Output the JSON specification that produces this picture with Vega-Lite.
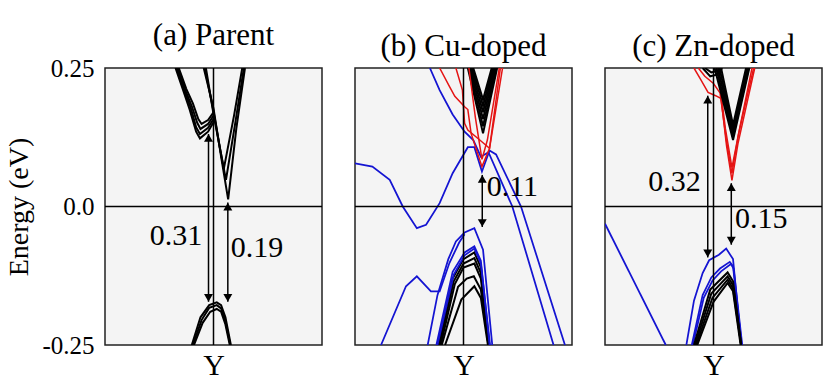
{
"$schema":"https://vega.github.io/schema/vega-lite/v6.json",
"padding":{"left":5,"top":19,"right":0,"bottom":0},
"spacing":29,
"background":"white",
"config":{
 "font":"Liberation Serif",
 "view":{"fill":"#f4f4f4","stroke":"#222","strokeWidth":1.5},
 "title":{"font":"Liberation Serif","fontSize":31,"fontWeight":"normal","color":"black","offset":4,"anchor":"middle"},
 "axisX":{"ticks":false,"domain":false,"grid":false,"labelFont":"Liberation Serif","labelFontSize":30,"labelColor":"black","labelPadding":5,"labelFlush":false},
 "axisY":{"ticks":false,"domain":false,"grid":false,"labelFont":"Liberation Serif","labelFontSize":25,"labelColor":"black","labelPadding":11,"labelFlush":false,"titleFont":"Liberation Serif","titleFontSize":28,"titleFontWeight":"normal","titleColor":"black","titlePadding":8},
 "text":{"font":"Liberation Serif"}
},
"datasets":{
"a":[
{"band":"aV1","kind":"host","k":-0.09,"E":0.25},{"band":"aV1","kind":"host","k":-0.04,"E":0.21},{"band":"aV1","kind":"host","k":0,"E":0.177},{"band":"aV1","kind":"host","k":0.07,"E":0.09},{"band":"aV1","kind":"host","k":0.135,"E":0.013},{"band":"aV1","kind":"host","k":0.21,"E":0.14},{"band":"aV1","kind":"host","k":0.29,"E":0.25},
{"band":"aV2","kind":"host","k":-0.08,"E":0.25},{"band":"aV2","kind":"host","k":0,"E":0.172},{"band":"aV2","kind":"host","k":0.06,"E":0.105},{"band":"aV2","kind":"host","k":0.115,"E":0.048},{"band":"aV2","kind":"host","k":0.2,"E":0.15},{"band":"aV2","kind":"host","k":0.28,"E":0.25},
{"band":"aV3","kind":"host","k":-0.07,"E":0.25},{"band":"aV3","kind":"host","k":0,"E":0.167},{"band":"aV3","kind":"host","k":0.05,"E":0.115},{"band":"aV3","kind":"host","k":0.095,"E":0.068},{"band":"aV3","kind":"host","k":0.19,"E":0.165},{"band":"aV3","kind":"host","k":0.265,"E":0.25},
{"band":"aL1","kind":"host","k":-0.35,"E":0.25},{"band":"aL1","kind":"host","k":-0.28,"E":0.21},{"band":"aL1","kind":"host","k":-0.22,"E":0.175},{"band":"aL1","kind":"host","k":-0.16,"E":0.135},{"band":"aL1","kind":"host","k":-0.125,"E":0.123},{"band":"aL1","kind":"host","k":-0.05,"E":0.135},{"band":"aL1","kind":"host","k":0,"E":0.152},
{"band":"aL2","kind":"host","k":-0.34,"E":0.25},{"band":"aL2","kind":"host","k":-0.27,"E":0.21},{"band":"aL2","kind":"host","k":-0.21,"E":0.178},{"band":"aL2","kind":"host","k":-0.16,"E":0.143},{"band":"aL2","kind":"host","k":-0.125,"E":0.131},{"band":"aL2","kind":"host","k":-0.05,"E":0.142},{"band":"aL2","kind":"host","k":0,"E":0.158},
{"band":"aL3","kind":"host","k":-0.33,"E":0.25},{"band":"aL3","kind":"host","k":-0.26,"E":0.21},{"band":"aL3","kind":"host","k":-0.2,"E":0.181},{"band":"aL3","kind":"host","k":-0.15,"E":0.151},{"band":"aL3","kind":"host","k":-0.12,"E":0.14},{"band":"aL3","kind":"host","k":-0.05,"E":0.149},{"band":"aL3","kind":"host","k":0,"E":0.164},
{"band":"aL4","kind":"host","k":-0.32,"E":0.25},{"band":"aL4","kind":"host","k":-0.25,"E":0.212},{"band":"aL4","kind":"host","k":-0.19,"E":0.186},{"band":"aL4","kind":"host","k":-0.14,"E":0.158},{"band":"aL4","kind":"host","k":-0.11,"E":0.149},{"band":"aL4","kind":"host","k":-0.05,"E":0.156},{"band":"aL4","kind":"host","k":0,"E":0.17},
{"band":"aW1","kind":"host","k":-0.2,"E":-0.25},{"band":"aW1","kind":"host","k":-0.12,"E":-0.2},{"band":"aW1","kind":"host","k":-0.04,"E":-0.178},{"band":"aW1","kind":"host","k":0.03,"E":-0.173},{"band":"aW1","kind":"host","k":0.07,"E":-0.178},{"band":"aW1","kind":"host","k":0.11,"E":-0.2},{"band":"aW1","kind":"host","k":0.16,"E":-0.25},
{"band":"aW2","kind":"host","k":-0.19,"E":-0.25},{"band":"aW2","kind":"host","k":-0.11,"E":-0.205},{"band":"aW2","kind":"host","k":-0.04,"E":-0.183},{"band":"aW2","kind":"host","k":0.03,"E":-0.178},{"band":"aW2","kind":"host","k":0.07,"E":-0.184},{"band":"aW2","kind":"host","k":0.11,"E":-0.207},{"band":"aW2","kind":"host","k":0.155,"E":-0.25},
{"band":"aW3","kind":"host","k":-0.18,"E":-0.25},{"band":"aW3","kind":"host","k":-0.1,"E":-0.21},{"band":"aW3","kind":"host","k":-0.03,"E":-0.19},{"band":"aW3","kind":"host","k":0.03,"E":-0.185},{"band":"aW3","kind":"host","k":0.07,"E":-0.19},{"band":"aW3","kind":"host","k":0.11,"E":-0.213},{"band":"aW3","kind":"host","k":0.15,"E":-0.25}
],
"b":[
{"band":"bB1","kind":"defect A","k":-1,"E":0.078},{"band":"bB1","kind":"defect A","k":-0.84,"E":0.072},{"band":"bB1","kind":"defect A","k":-0.68,"E":0.048},{"band":"bB1","kind":"defect A","k":-0.56,"E":0.0},{"band":"bB1","kind":"defect A","k":-0.43,"E":-0.039},{"band":"bB1","kind":"defect A","k":-0.345,"E":-0.033},{"band":"bB1","kind":"defect A","k":-0.22,"E":0.006},{"band":"bB1","kind":"defect A","k":-0.1,"E":0.06},{"band":"bB1","kind":"defect A","k":0.04,"E":0.107},{"band":"bB1","kind":"defect A","k":0.1,"E":0.107},{"band":"bB1","kind":"defect A","k":0.17,"E":0.063},{"band":"bB1","kind":"defect A","k":0.24,"E":0.101},{"band":"bB1","kind":"defect A","k":0.3,"E":0.094},{"band":"bB1","kind":"defect A","k":0.53,"E":0.0},{"band":"bB1","kind":"defect A","k":0.935,"E":-0.25},
{"band":"bB2","kind":"defect A","k":-0.31,"E":0.25},{"band":"bB2","kind":"defect A","k":-0.22,"E":0.21},{"band":"bB2","kind":"defect A","k":-0.1,"E":0.166},{"band":"bB2","kind":"defect A","k":0.01,"E":0.135},{"band":"bB2","kind":"defect A","k":0.09,"E":0.12},{"band":"bB2","kind":"defect A","k":0.16,"E":0.09},{"band":"bB2","kind":"defect A","k":0.23,"E":0.098},{"band":"bB2","kind":"defect A","k":0.45,"E":0.0},{"band":"bB2","kind":"defect A","k":0.83,"E":-0.25},
{"band":"bB3","kind":"defect A","k":-0.33,"E":-0.25},{"band":"bB3","kind":"defect A","k":-0.24,"E":-0.16},{"band":"bB3","kind":"defect A","k":-0.14,"E":-0.095},{"band":"bB3","kind":"defect A","k":-0.07,"E":-0.063},{"band":"bB3","kind":"defect A","k":0.01,"E":-0.047},{"band":"bB3","kind":"defect A","k":0.1,"E":-0.039},{"band":"bB3","kind":"defect A","k":0.18,"E":-0.078},{"band":"bB3","kind":"defect A","k":0.265,"E":-0.25},
{"band":"bB4","kind":"defect A","k":-0.76,"E":-0.25},{"band":"bB4","kind":"defect A","k":-0.53,"E":-0.144},{"band":"bB4","kind":"defect A","k":-0.43,"E":-0.126},{"band":"bB4","kind":"defect A","k":-0.3,"E":-0.153},{"band":"bB4","kind":"defect A","k":-0.22,"E":-0.153},{"band":"bB4","kind":"defect A","k":-0.13,"E":-0.102},{"band":"bB4","kind":"defect A","k":-0.04,"E":-0.065},{"band":"bB4","kind":"defect A","k":0.01,"E":-0.05},
{"band":"bK7","kind":"host","k":-0.23,"E":-0.25},{"band":"bK7","kind":"host","k":-0.1,"E":-0.13},{"band":"bK7","kind":"host","k":0,"E":-0.095},{"band":"bK7","kind":"host","k":0.1,"E":-0.083},{"band":"bK7","kind":"host","k":0.16,"E":-0.11},{"band":"bK7","kind":"host","k":0.235,"E":-0.25},
{"band":"bK8","kind":"host","k":-0.22,"E":-0.25},{"band":"bK8","kind":"host","k":-0.09,"E":-0.135},{"band":"bK8","kind":"host","k":0,"E":-0.103},{"band":"bK8","kind":"host","k":0.1,"E":-0.093},{"band":"bK8","kind":"host","k":0.16,"E":-0.12},{"band":"bK8","kind":"host","k":0.235,"E":-0.25},
{"band":"bK9","kind":"host","k":-0.21,"E":-0.25},{"band":"bK9","kind":"host","k":-0.08,"E":-0.14},{"band":"bK9","kind":"host","k":0,"E":-0.11},{"band":"bK9","kind":"host","k":0.1,"E":-0.103},{"band":"bK9","kind":"host","k":0.16,"E":-0.13},{"band":"bK9","kind":"host","k":0.23,"E":-0.25},
{"band":"bK10","kind":"host","k":-0.2,"E":-0.25},{"band":"bK10","kind":"host","k":-0.05,"E":-0.145},{"band":"bK10","kind":"host","k":0.03,"E":-0.13},{"band":"bK10","kind":"host","k":0.095,"E":-0.126},{"band":"bK10","kind":"host","k":0.16,"E":-0.15},{"band":"bK10","kind":"host","k":0.23,"E":-0.25},
{"band":"bK11","kind":"host","k":-0.17,"E":-0.25},{"band":"bK11","kind":"host","k":-0.02,"E":-0.168},{"band":"bK11","kind":"host","k":0.1,"E":-0.144},{"band":"bK11","kind":"host","k":0.16,"E":-0.165},{"band":"bK11","kind":"host","k":0.225,"E":-0.25},
{"band":"bB5","kind":"defect A","k":-0.25,"E":-0.25},{"band":"bB5","kind":"defect A","k":-0.1,"E":-0.118},{"band":"bB5","kind":"defect A","k":0.01,"E":-0.083},{"band":"bB5","kind":"defect A","k":0.1,"E":-0.072},{"band":"bB5","kind":"defect A","k":0.16,"E":-0.098},{"band":"bB5","kind":"defect A","k":0.24,"E":-0.25},
{"band":"bB6","kind":"defect A","k":-0.24,"E":-0.25},{"band":"bB6","kind":"defect A","k":-0.09,"E":-0.123},{"band":"bB6","kind":"defect A","k":0.01,"E":-0.088},{"band":"bB6","kind":"defect A","k":0.1,"E":-0.076},{"band":"bB6","kind":"defect A","k":0.16,"E":-0.103},{"band":"bB6","kind":"defect A","k":0.245,"E":-0.25},
{"band":"bK1","kind":"host","k":0.04,"E":0.25},{"band":"bK1","kind":"host","k":0.18,"E":0.132},{"band":"bK1","kind":"host","k":0.31,"E":0.25},
{"band":"bK2","kind":"host","k":0.05,"E":0.25},{"band":"bK2","kind":"host","k":0.18,"E":0.145},{"band":"bK2","kind":"host","k":0.30,"E":0.25},
{"band":"bK3","kind":"host","k":0.06,"E":0.25},{"band":"bK3","kind":"host","k":0.18,"E":0.158},{"band":"bK3","kind":"host","k":0.29,"E":0.25},
{"band":"bK4","kind":"host","k":0.07,"E":0.25},{"band":"bK4","kind":"host","k":0.18,"E":0.17},{"band":"bK4","kind":"host","k":0.28,"E":0.25},
{"band":"bK5","kind":"host","k":0.08,"E":0.25},{"band":"bK5","kind":"host","k":0.18,"E":0.182},{"band":"bK5","kind":"host","k":0.27,"E":0.25},
{"band":"bK6","kind":"host","k":0.09,"E":0.25},{"band":"bK6","kind":"host","k":0.18,"E":0.193},{"band":"bK6","kind":"host","k":0.26,"E":0.25},
{"band":"bR1","kind":"defect B","k":-0.22,"E":0.25},{"band":"bR1","kind":"defect B","k":-0.13,"E":0.217},{"band":"bR1","kind":"defect B","k":-0.08,"E":0.199},{"band":"bR1","kind":"defect B","k":0.01,"E":0.18},{"band":"bR1","kind":"defect B","k":0.04,"E":0.175},{"band":"bR1","kind":"defect B","k":0.07,"E":0.132},{"band":"bR1","kind":"defect B","k":0.17,"E":0.072},{"band":"bR1","kind":"defect B","k":0.24,"E":0.105},{"band":"bR1","kind":"defect B","k":0.36,"E":0.25},
{"band":"bR2","kind":"defect B","k":-0.07,"E":0.25},{"band":"bR2","kind":"defect B","k":-0.01,"E":0.21},{"band":"bR2","kind":"defect B","k":0.01,"E":0.15},{"band":"bR2","kind":"defect B","k":0.04,"E":0.138},{"band":"bR2","kind":"defect B","k":0.15,"E":0.12},{"band":"bR2","kind":"defect B","k":0.24,"E":0.105},{"band":"bR2","kind":"defect B","k":0.34,"E":0.25},
{"band":"bR3","kind":"defect B","k":0.05,"E":0.25},{"band":"bR3","kind":"defect B","k":0.11,"E":0.16},{"band":"bR3","kind":"defect B","k":0.17,"E":0.085},{"band":"bR3","kind":"defect B","k":0.22,"E":0.12},{"band":"bR3","kind":"defect B","k":0.33,"E":0.25}
],
"c":[
{"band":"cB1","kind":"defect A","k":-1,"E":-0.031},{"band":"cB1","kind":"defect A","k":-0.44,"E":-0.25},
{"band":"cB2","kind":"defect A","k":-0.25,"E":-0.25},{"band":"cB2","kind":"defect A","k":-0.18,"E":-0.17},{"band":"cB2","kind":"defect A","k":-0.1,"E":-0.12},{"band":"cB2","kind":"defect A","k":-0.04,"E":-0.097},{"band":"cB2","kind":"defect A","k":0.05,"E":-0.087},{"band":"cB2","kind":"defect A","k":0.117,"E":-0.076},{"band":"cB2","kind":"defect A","k":0.18,"E":-0.095},{"band":"cB2","kind":"defect A","k":0.256,"E":-0.25},
{"band":"cB3","kind":"defect A","k":-0.2,"E":-0.25},{"band":"cB3","kind":"defect A","k":-0.1,"E":-0.16},{"band":"cB3","kind":"defect A","k":-0.02,"E":-0.128},{"band":"cB3","kind":"defect A","k":0.06,"E":-0.112},{"band":"cB3","kind":"defect A","k":0.15,"E":-0.1},{"band":"cB3","kind":"defect A","k":0.18,"E":-0.108},{"band":"cB3","kind":"defect A","k":0.26,"E":-0.25},
{"band":"cB4","kind":"defect A","k":-0.19,"E":-0.25},{"band":"cB4","kind":"defect A","k":-0.09,"E":-0.165},{"band":"cB4","kind":"defect A","k":-0.01,"E":-0.134},{"band":"cB4","kind":"defect A","k":0.07,"E":-0.117},{"band":"cB4","kind":"defect A","k":0.16,"E":-0.104},{"band":"cB4","kind":"defect A","k":0.185,"E":-0.112},{"band":"cB4","kind":"defect A","k":0.265,"E":-0.25},
{"band":"cK8","kind":"host","k":-0.18,"E":-0.25},{"band":"cK8","kind":"host","k":-0.03,"E":-0.15},{"band":"cK8","kind":"host","k":0.13,"E":-0.119},{"band":"cK8","kind":"host","k":0.18,"E":-0.135},{"band":"cK8","kind":"host","k":0.255,"E":-0.25},
{"band":"cK9","kind":"host","k":-0.17,"E":-0.25},{"band":"cK9","kind":"host","k":-0.02,"E":-0.157},{"band":"cK9","kind":"host","k":0.13,"E":-0.126},{"band":"cK9","kind":"host","k":0.18,"E":-0.142},{"band":"cK9","kind":"host","k":0.255,"E":-0.25},
{"band":"cK10","kind":"host","k":-0.16,"E":-0.25},{"band":"cK10","kind":"host","k":-0.01,"E":-0.165},{"band":"cK10","kind":"host","k":0.13,"E":-0.132},{"band":"cK10","kind":"host","k":0.18,"E":-0.148},{"band":"cK10","kind":"host","k":0.255,"E":-0.25},
{"band":"cK11","kind":"host","k":-0.15,"E":-0.25},{"band":"cK11","kind":"host","k":0,"E":-0.172},{"band":"cK11","kind":"host","k":0.13,"E":-0.138},{"band":"cK11","kind":"host","k":0.18,"E":-0.153},{"band":"cK11","kind":"host","k":0.25,"E":-0.25},
{"band":"cR1","kind":"defect B","k":-0.18,"E":0.25},{"band":"cR1","kind":"defect B","k":-0.12,"E":0.23},{"band":"cR1","kind":"defect B","k":-0.05,"E":0.206},{"band":"cR1","kind":"defect B","k":0.02,"E":0.2},{"band":"cR1","kind":"defect B","k":0.07,"E":0.195},{"band":"cR1","kind":"defect B","k":0.12,"E":0.11},{"band":"cR1","kind":"defect B","k":0.17,"E":0.047},{"band":"cR1","kind":"defect B","k":0.225,"E":0.113},{"band":"cR1","kind":"defect B","k":0.38,"E":0.25},
{"band":"cR2","kind":"defect B","k":-0.14,"E":0.25},{"band":"cR2","kind":"defect B","k":-0.08,"E":0.235},{"band":"cR2","kind":"defect B","k":0,"E":0.222},{"band":"cR2","kind":"defect B","k":0.06,"E":0.205},{"band":"cR2","kind":"defect B","k":0.12,"E":0.118},{"band":"cR2","kind":"defect B","k":0.17,"E":0.06},{"band":"cR2","kind":"defect B","k":0.23,"E":0.13},{"band":"cR2","kind":"defect B","k":0.37,"E":0.25},
{"band":"cR3","kind":"defect B","k":0.04,"E":0.25},{"band":"cR3","kind":"defect B","k":0.11,"E":0.14},{"band":"cR3","kind":"defect B","k":0.17,"E":0.07},{"band":"cR3","kind":"defect B","k":0.24,"E":0.14},{"band":"cR3","kind":"defect B","k":0.355,"E":0.25},
{"band":"cK1","kind":"host","k":0.01,"E":0.25},{"band":"cK1","kind":"host","k":0.18,"E":0.12},{"band":"cK1","kind":"host","k":0.33,"E":0.25},
{"band":"cK2","kind":"host","k":0.025,"E":0.25},{"band":"cK2","kind":"host","k":0.18,"E":0.127},{"band":"cK2","kind":"host","k":0.325,"E":0.25},
{"band":"cK3","kind":"host","k":0.04,"E":0.25},{"band":"cK3","kind":"host","k":0.18,"E":0.133},{"band":"cK3","kind":"host","k":0.32,"E":0.25},
{"band":"cK4","kind":"host","k":0.055,"E":0.25},{"band":"cK4","kind":"host","k":0.18,"E":0.14},{"band":"cK4","kind":"host","k":0.31,"E":0.25},
{"band":"cK5","kind":"host","k":0.07,"E":0.25},{"band":"cK5","kind":"host","k":0.18,"E":0.147},{"band":"cK5","kind":"host","k":0.30,"E":0.25},
{"band":"cK6","kind":"host","k":-0.1,"E":0.25},{"band":"cK6","kind":"host","k":-0.03,"E":0.235},{"band":"cK6","kind":"host","k":0.03,"E":0.238},{"band":"cK6","kind":"host","k":0.08,"E":0.25},
{"band":"cK7","kind":"host","k":-0.08,"E":0.25},{"band":"cK7","kind":"host","k":-0.02,"E":0.242},{"band":"cK7","kind":"host","k":0.04,"E":0.245},{"band":"cK7","kind":"host","k":0.06,"E":0.25}
],
"arr_a":[{"k":-0.046,"top":0.131,"bottom":-0.172,"lk":-0.345,"lE":-0.053,"label":"0.31"},{"k":0.132,"top":0.007,"bottom":-0.172,"lk":0.4,"lE":-0.075,"label":"0.19"}],
"arr_b":[{"k":0.173,"top":0.057,"bottom":-0.037,"lk":0.45,"lE":0.036,"label":"0.11"}],
"arr_c":[{"k":-0.053,"top":0.2,"bottom":-0.092,"lk":-0.36,"lE":0.045,"label":"0.32"},{"k":0.164,"top":0.042,"bottom":-0.069,"lk":0.44,"lE":-0.022,"label":"0.15"}],
"zero":[{"k":0,"E":0}]
},
"hconcat":[
{"width":217,"height":277,"title":"(a) Parent",
 "layer":[
  {"data":{"name":"a"},"mark":{"type":"line","clip":true},"encoding":{"x":{"field":"k","type":"quantitative","scale":{"domain":[-1,1],"nice":false,"zero":false},"axis":{"values":[0],"labelExpr":"'Y'","title":null}},"y":{"field":"E","type":"quantitative","scale":{"domain":[-0.25,0.25],"nice":false,"zero":false},"axis":{"values":[-0.25,0,0.25],"labelExpr":"datum.value == 0 ? '0.0' : toString(datum.value)","title":"Energy (eV)"}},"detail":{"field":"band"},"color":{"field":"kind","type":"nominal","scale":{"domain":["host","defect A","defect B"],"range":["#000000","#1414d2","#e51414"]},"legend":null},"strokeWidth":{"field":"kind","type":"nominal","scale":{"domain":["host","defect A","defect B"],"range":[2,1.5,1.5]},"legend":null}}},
  {"data":{"name":"zero"},"mark":{"type":"rule","color":"black","strokeWidth":1.5},"encoding":{"x":{"field":"k","type":"quantitative","axis":{"values":[0],"labelExpr":"'Y'","title":null}}}},
  {"data":{"name":"zero"},"mark":{"type":"rule","color":"black","strokeWidth":1.5},"encoding":{"y":{"field":"E","type":"quantitative","axis":{"values":[-0.25,0,0.25],"labelExpr":"datum.value == 0 ? '0.0' : toString(datum.value)","title":"Energy (eV)"}}}},
  {"data":{"name":"arr_a"},"mark":{"type":"rule","color":"black","strokeWidth":1.5},"encoding":{"x":{"field":"k","type":"quantitative","axis":{"values":[0],"labelExpr":"'Y'","title":null}},"y":{"field":"top","type":"quantitative","axis":{"values":[-0.25,0,0.25],"labelExpr":"datum.value == 0 ? '0.0' : toString(datum.value)","title":"Energy (eV)"}},"y2":{"field":"bottom"}}},
  {"data":{"name":"arr_a"},"mark":{"type":"point","shape":"triangle-up","filled":true,"color":"black","size":80,"opacity":1,"yOffset":4},"encoding":{"x":{"field":"k","type":"quantitative","axis":{"values":[0],"labelExpr":"'Y'","title":null}},"y":{"field":"top","type":"quantitative","axis":{"values":[-0.25,0,0.25],"labelExpr":"datum.value == 0 ? '0.0' : toString(datum.value)","title":"Energy (eV)"}}}},
  {"data":{"name":"arr_a"},"mark":{"type":"point","shape":"triangle-down","filled":true,"color":"black","size":80,"opacity":1,"yOffset":-4},"encoding":{"x":{"field":"k","type":"quantitative","axis":{"values":[0],"labelExpr":"'Y'","title":null}},"y":{"field":"bottom","type":"quantitative","axis":{"values":[-0.25,0,0.25],"labelExpr":"datum.value == 0 ? '0.0' : toString(datum.value)","title":"Energy (eV)"}}}},
  {"data":{"name":"arr_a"},"mark":{"type":"text","font":"Liberation Serif","fontSize":30,"color":"black","align":"center","baseline":"middle"},"encoding":{"x":{"field":"lk","type":"quantitative","axis":{"values":[0],"labelExpr":"'Y'","title":null}},"y":{"field":"lE","type":"quantitative","axis":{"values":[-0.25,0,0.25],"labelExpr":"datum.value == 0 ? '0.0' : toString(datum.value)","title":"Energy (eV)"}},"text":{"field":"label"}}}
 ]},
{"width":217,"height":277,"title":"(b) Cu-doped",
 "layer":[
  {"data":{"name":"b"},"mark":{"type":"line","clip":true},"encoding":{"x":{"field":"k","type":"quantitative","scale":{"domain":[-1,1],"nice":false,"zero":false},"axis":{"values":[0],"labelExpr":"'Y'","title":null}},"y":{"field":"E","type":"quantitative","scale":{"domain":[-0.25,0.25],"nice":false,"zero":false},"axis":null},"detail":{"field":"band"},"color":{"field":"kind","type":"nominal","scale":{"domain":["host","defect A","defect B"],"range":["#000000","#1414d2","#e51414"]},"legend":null},"strokeWidth":{"field":"kind","type":"nominal","scale":{"domain":["host","defect A","defect B"],"range":[2,1.5,1.5]},"legend":null}}},
  {"data":{"name":"zero"},"mark":{"type":"rule","color":"black","strokeWidth":1.5},"encoding":{"x":{"field":"k","type":"quantitative","axis":{"values":[0],"labelExpr":"'Y'","title":null}}}},
  {"data":{"name":"zero"},"mark":{"type":"rule","color":"black","strokeWidth":1.5},"encoding":{"y":{"field":"E","type":"quantitative","axis":null}}},
  {"data":{"name":"arr_b"},"mark":{"type":"rule","color":"black","strokeWidth":1.5},"encoding":{"x":{"field":"k","type":"quantitative","axis":{"values":[0],"labelExpr":"'Y'","title":null}},"y":{"field":"top","type":"quantitative","axis":null},"y2":{"field":"bottom"}}},
  {"data":{"name":"arr_b"},"mark":{"type":"point","shape":"triangle-up","filled":true,"color":"black","size":80,"opacity":1,"yOffset":4},"encoding":{"x":{"field":"k","type":"quantitative","axis":{"values":[0],"labelExpr":"'Y'","title":null}},"y":{"field":"top","type":"quantitative","axis":null}}},
  {"data":{"name":"arr_b"},"mark":{"type":"point","shape":"triangle-down","filled":true,"color":"black","size":80,"opacity":1,"yOffset":-4},"encoding":{"x":{"field":"k","type":"quantitative","axis":{"values":[0],"labelExpr":"'Y'","title":null}},"y":{"field":"bottom","type":"quantitative","axis":null}}},
  {"data":{"name":"arr_b"},"mark":{"type":"text","font":"Liberation Serif","fontSize":30,"color":"black","align":"center","baseline":"middle"},"encoding":{"x":{"field":"lk","type":"quantitative","axis":{"values":[0],"labelExpr":"'Y'","title":null}},"y":{"field":"lE","type":"quantitative","axis":null},"text":{"field":"label"}}}
 ]},
{"width":217,"height":277,"title":"(c) Zn-doped",
 "layer":[
  {"data":{"name":"c"},"mark":{"type":"line","clip":true},"encoding":{"x":{"field":"k","type":"quantitative","scale":{"domain":[-1,1],"nice":false,"zero":false},"axis":{"values":[0],"labelExpr":"'Y'","title":null}},"y":{"field":"E","type":"quantitative","scale":{"domain":[-0.25,0.25],"nice":false,"zero":false},"axis":null},"detail":{"field":"band"},"color":{"field":"kind","type":"nominal","scale":{"domain":["host","defect A","defect B"],"range":["#000000","#1414d2","#e51414"]},"legend":null},"strokeWidth":{"field":"kind","type":"nominal","scale":{"domain":["host","defect A","defect B"],"range":[2,1.5,1.5]},"legend":null}}},
  {"data":{"name":"zero"},"mark":{"type":"rule","color":"black","strokeWidth":1.5},"encoding":{"x":{"field":"k","type":"quantitative","axis":{"values":[0],"labelExpr":"'Y'","title":null}}}},
  {"data":{"name":"zero"},"mark":{"type":"rule","color":"black","strokeWidth":1.5},"encoding":{"y":{"field":"E","type":"quantitative","axis":null}}},
  {"data":{"name":"arr_c"},"mark":{"type":"rule","color":"black","strokeWidth":1.5},"encoding":{"x":{"field":"k","type":"quantitative","axis":{"values":[0],"labelExpr":"'Y'","title":null}},"y":{"field":"top","type":"quantitative","axis":null},"y2":{"field":"bottom"}}},
  {"data":{"name":"arr_c"},"mark":{"type":"point","shape":"triangle-up","filled":true,"color":"black","size":80,"opacity":1,"yOffset":4},"encoding":{"x":{"field":"k","type":"quantitative","axis":{"values":[0],"labelExpr":"'Y'","title":null}},"y":{"field":"top","type":"quantitative","axis":null}}},
  {"data":{"name":"arr_c"},"mark":{"type":"point","shape":"triangle-down","filled":true,"color":"black","size":80,"opacity":1,"yOffset":-4},"encoding":{"x":{"field":"k","type":"quantitative","axis":{"values":[0],"labelExpr":"'Y'","title":null}},"y":{"field":"bottom","type":"quantitative","axis":null}}},
  {"data":{"name":"arr_c"},"mark":{"type":"text","font":"Liberation Serif","fontSize":30,"color":"black","align":"center","baseline":"middle"},"encoding":{"x":{"field":"lk","type":"quantitative","axis":{"values":[0],"labelExpr":"'Y'","title":null}},"y":{"field":"lE","type":"quantitative","axis":null},"text":{"field":"label"}}}
 ]}
]
}
